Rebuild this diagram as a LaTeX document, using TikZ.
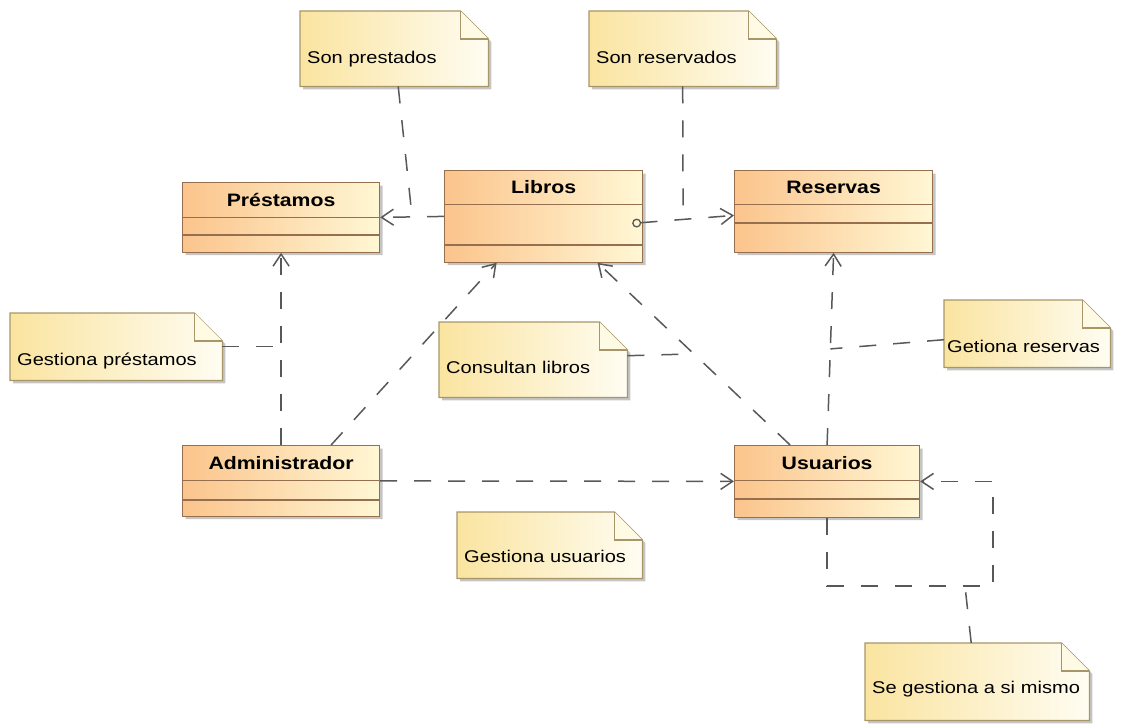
\documentclass[tikz,border=0pt]{standalone}
\usepackage{fontspec}
\setmainfont{Liberation Sans}[FakeStretch=1.18]
\usetikzlibrary{positioning,calc,arrows.meta,shapes.multipart,shadows,backgrounds}
\definecolor{clsL}{RGB}{251,196,140}
\definecolor{clsR}{RGB}{255,247,212}
\definecolor{clsBrd}{RGB}{150,112,78}
\definecolor{noteL}{RGB}{250,228,160}
\definecolor{noteR}{RGB}{255,253,242}
\definecolor{noteBrd}{RGB}{168,150,105}
\definecolor{foldC}{RGB}{255,250,228}
\definecolor{lineC}{RGB}{88,88,88}
\tikzset{
umlclass/.style={rectangle split, rectangle split parts=3, draw=clsBrd, line width=1.2pt,
                 left color=clsL, right color=clsR, inner xsep=0pt, inner ysep=0pt,
                 anchor=north west, minimum width=197pt,
                 font=\bfseries\fontsize{18}{20}\selectfont,
                 drop shadow={shadow xshift=3pt, shadow yshift=-3pt, fill=black!45, opacity=.5}},
note/.style n args={3}{anchor=north west, inner xsep=7pt, inner ysep=0pt, align=left,
                 text width=#1, text height=#2, text depth=#3,
                 font=\fontsize{17}{20}\selectfont},
link/.style={draw=lineC, line width=1.5pt, dash pattern=on 17pt off 17pt},
dep/.style={link, -{Straight Barb[length=12pt,width=16pt]}},
}
\begin{document}
\begin{tikzpicture}[x=1pt, y=-1pt]

    \useasboundingbox (0,0) rectangle (1121,725);

    % clases
    \node[umlclass] (prest) at (182,182) {\rule[-11pt]{0pt}{34pt}Préstamos\nodepart{second}\rule{0pt}{16pt}\nodepart{third}\rule{0pt}{16pt}};
    \node[umlclass, minimum width=198pt] (libros) at (444,170) {\rule[-11pt]{0pt}{33pt}Libros\nodepart{second}\rule{0pt}{39pt}\nodepart{third}\rule{0pt}{16pt}};
    \node[umlclass, minimum width=198pt] (reservas) at (734,170) {\rule[-11pt]{0pt}{33pt}Reservas\nodepart{second}\rule{0pt}{17pt}\nodepart{third}\rule{0pt}{28pt}};
    \node[umlclass] (admin) at (182,445) {\rule[-11pt]{0pt}{34pt}Administrador\nodepart{second}\rule{0pt}{18pt}\nodepart{third}\rule{0pt}{15pt}};
    \node[umlclass, minimum width=185pt] (usu) at (734,445) {\rule[-11pt]{0pt}{34pt}Usuarios\nodepart{second}\rule{0pt}{17pt}\nodepart{third}\rule{0pt}{17pt}};

    % notas
    \node[note={174pt}{52pt}{23pt}] (nPrest) at (300,11) {Son prestados};
    \node[note={173pt}{52pt}{23pt}] (nReserv) at (589,11) {Son reservados};
    \node[note={198pt}{52pt}{15pt}] (nGestP) at (10,313) {Gestiona préstamos};
    \node[note={174pt}{51pt}{24pt}] (nCons) at (439,322) {Consultan libros};
    \node[note={160pt}{52pt}{15pt}, inner xsep=3pt] (nGetR) at (944,300) {Getiona reservas};
    \node[note={171pt}{50pt}{16pt}] (nGestU) at (457,512) {Gestiona usuarios};
    \node[note={210pt}{50pt}{27pt}] (nSelf) at (865,643) {Se gestiona a si mismo};

    \begin{scope}[on background layer]
    \foreach \n in {nPrest,nReserv,nGestP,nCons,nGetR,nGestU,nSelf}{
        \draw[draw=noteBrd, line width=1.2pt, left color=noteL, right color=noteR,
              drop shadow={shadow xshift=3pt, shadow yshift=-3pt, fill=black!45, opacity=.5}]
            (\n.north west) -- ([xshift=-28pt]\n.north east) -- ([yshift=-28pt]\n.north east)
            -- (\n.south east) -- (\n.south west) -- cycle;
        \filldraw[draw=noteBrd, line width=1.2pt, fill=foldC]
            ([xshift=-28pt]\n.north east) -- ([xshift=-28pt,yshift=-28pt]\n.north east)
            -- ([yshift=-28pt]\n.north east);
    }
    \end{scope}

    % dependencias
    \draw[dep] (libros.west) -- coordinate (mPL) (prest.east);
    \draw[link] ([xshift=4pt]nPrest.south) -- (mPL);

    \draw[dep, {Circle[open,length=9pt,width=9pt,line width=1.3pt]}-{Straight Barb[length=12pt,width=16pt]}]
        ([xshift=-11pt,yshift=-7pt]libros.east) -- coordinate (mLR) ([yshift=-4pt]reservas.west);
    \draw[link] (nReserv.south) -- (mLR);

    \draw[dep] (admin.north) -- (prest.south);
    \draw[link] (nGestP.east) -- (nGestP.east -| admin.north);

    \draw[dep] ([xshift=50pt]admin.north) -- ([xshift=-47pt]libros.south);

    \draw[dep] ([xshift=-37pt]usu.north) -- coordinate (mUL) ([xshift=54pt]libros.south);
    \draw[link] ([yshift=4pt]nCons.east) -- (mUL);

    \draw[dep] (usu.north) -- coordinate (mUR) (reservas.south);
    \draw[link] ([yshift=-6pt]nGetR.west) -- (mUR);

    \draw[dep] (admin.east) -- (usu.west);

    \coordinate (selfA) at (993,586);
    \draw[dep] (usu.south) |- (selfA) |- (usu.east);
    \draw[link] ([xshift=-6pt]nSelf.north) -- ([xshift=-28pt]selfA);

\end{tikzpicture}
\end{document}
